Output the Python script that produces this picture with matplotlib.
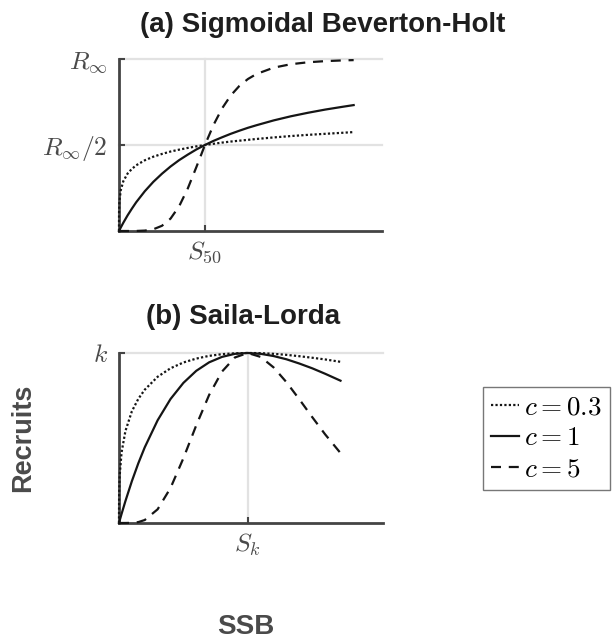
import matplotlib
matplotlib.use("Agg")
import matplotlib.pyplot as plt

plt.rcParams['mathtext.fontset'] = 'cm'
plt.rcParams['font.family'] = ['Liberation Sans', 'DejaVu Sans']

# ---- Panel (a): Sigmoidal Beverton-Holt (SSB in units of S50, recruits in units of R_inf)
ssb_a = [0, 0.001, 0.005, 0.02, 0.05, 0.1, 0.15, 0.2, 0.3, 0.4, 0.5, 0.6, 0.7, 0.8, 0.9,
         1.0, 1.1, 1.2, 1.3, 1.4, 1.5, 1.6, 1.8, 2.0, 2.2, 2.4, 2.6, 2.73]
rec_a_c03 = [0, 0.112, 0.170, 0.236, 0.289, 0.334, 0.361, 0.382, 0.411, 0.432, 0.448, 0.462,
             0.473, 0.483, 0.492, 0.500, 0.507, 0.514, 0.520, 0.525, 0.530, 0.535, 0.544,
             0.552, 0.559, 0.565, 0.571, 0.575]
rec_a_c1 = [0, 0.001, 0.005, 0.0196, 0.0476, 0.0909, 0.130, 0.167, 0.231, 0.286, 0.333, 0.375,
            0.412, 0.444, 0.474, 0.500, 0.524, 0.545, 0.565, 0.583, 0.600, 0.615, 0.643,
            0.667, 0.6875, 0.706, 0.722, 0.732]
rec_a_c5 = [0, 0, 0, 0, 0, 0, 0.0001, 0.0003, 0.0024, 0.0101, 0.0303, 0.0722, 0.1439, 0.2468,
            0.3713, 0.500, 0.6169, 0.7133, 0.7878, 0.8432, 0.8836, 0.9129, 0.9497, 0.9697,
            0.9810, 0.9876, 0.9917, 0.9935]

# ---- Panel (b): Saila-Lorda (SSB in units of Sk, recruits in units of k)
ssb_b = [0, 0.001, 0.005, 0.02, 0.05, 0.1, 0.15, 0.2, 0.3, 0.4, 0.5, 0.6, 0.7, 0.8, 0.9,
         1.0, 1.1, 1.2, 1.3, 1.4, 1.5, 1.6, 1.72]
rec_b_c03 = [0, 0.170, 0.275, 0.415, 0.541, 0.657, 0.730, 0.784, 0.860, 0.910, 0.944, 0.967,
             0.983, 0.993, 0.998, 1.000, 0.999, 0.995, 0.989, 0.981, 0.972, 0.962, 0.948]
rec_b_c1 = [0, 0.0027, 0.0135, 0.0533, 0.129, 0.246, 0.351, 0.445, 0.604, 0.729, 0.824, 0.895,
            0.945, 0.977, 0.995, 1.000, 0.995, 0.982, 0.963, 0.938, 0.910, 0.878, 0.837]
rec_b_c5 = [0, 0, 0, 0, 0.00004, 0.0009, 0.0053, 0.0175, 0.0805, 0.2057, 0.3807, 0.5746,
            0.7532, 0.8907, 0.9736, 1.000, 0.9768, 0.9154, 0.8285, 0.7278, 0.6233, 0.5220, 0.4113]

legend_labels = [r'$c=0.3$', r'$c=1$', r'$c=5$']
styles = [(0, (1, 1)), '-', (0, (4.5, 3.5))]

spine_col = '#444444'
grid_col = '#e2e2e2'
line_col = '#151515'
tick_col = '#4a4a4a'
W, H = 613, 644

fig = plt.figure(figsize=(W / 100, H / 100), dpi=100)
ax_a = fig.add_axes([0.1941, 0.6413, 0.4291, 0.2671])
ax_b = fig.add_axes([0.1941, 0.1879, 0.4307, 0.2640])

def style_axes(ax, xlim, xt, xtl, yt, ytl):
    ax.set_xlim(*xlim)
    ax.set_ylim(0, 1)
    for s in ['top', 'right']:
        ax.spines[s].set_visible(False)
    for s in ['left', 'bottom']:
        ax.spines[s].set_color(spine_col)
        ax.spines[s].set_linewidth(2.0)
        ax.spines[s].set_zorder(2.5)
    ax.set_xticks(xt)
    ax.set_xticklabels(xtl)
    ax.set_yticks(yt)
    ax.set_yticklabels(ytl)
    ax.tick_params(direction='in', length=4, width=1.5, color=spine_col,
                   labelsize=18.5, labelcolor=tick_col)
    ax.tick_params(axis='x', pad=6)
    ax.tick_params(axis='y', pad=8)
    ax.grid(True, color=grid_col, linewidth=1.6, zorder=0)
    ax.set_axisbelow(True)
    for gl in ax.get_xgridlines() + ax.get_ygridlines():
        gl.set_clip_on(False)

handles = []
for vals, ls in zip([rec_a_c03, rec_a_c1, rec_a_c5], styles):
    h, = ax_a.plot(ssb_a, vals, color=line_col, lw=1.6, linestyle=ls, clip_on=False, zorder=3)
    handles.append(h)
for vals, ls in zip([rec_b_c03, rec_b_c1, rec_b_c5], styles):
    ax_b.plot(ssb_b, vals, color=line_col, lw=1.6, linestyle=ls, clip_on=False, zorder=3)

style_axes(ax_a, (0, 3.06), [1], [r'$S_{50}$'], [0.5, 1.0], [r'$R_\infty/2$', r'$R_\infty$'])
style_axes(ax_b, (0, 2.05), [1], [r'$S_k$'], [1.0], [r'$k$'])

fig.text(140 / W, 1 - 25 / H, '(a) Sigmoidal Beverton-Holt', fontsize=20, fontweight='bold',
         color='#1e1e1e', ha='left', va='center')
fig.text(243 / W, 1 - 317 / H, '(b) Saila-Lorda', fontsize=20, fontweight='bold',
         color='#1e1e1e', ha='center', va='center')

fig.text(23 / W, 1 - 438 / H, 'Recruits', rotation=90, fontsize=19.5, fontweight='bold',
         color='#4a4a4a', ha='center', va='center')
fig.text(246 / W, 1 - 627 / H, 'SSB', fontsize=20, fontweight='bold',
         color='#4a4a4a', ha='center', va='center')

leg = fig.legend(handles, legend_labels, loc='upper left',
                 bbox_to_anchor=(483 / W, 1 - 387 / H), borderaxespad=0,
                 fontsize=19.5, frameon=True, fancybox=False, handlelength=1.05,
                 handletextpad=0.2, labelspacing=0.18, borderpad=0.28)
leg.get_frame().set_edgecolor('#555555')
leg.get_frame().set_linewidth(1.0)

fig.savefig('out.png', dpi=100)
